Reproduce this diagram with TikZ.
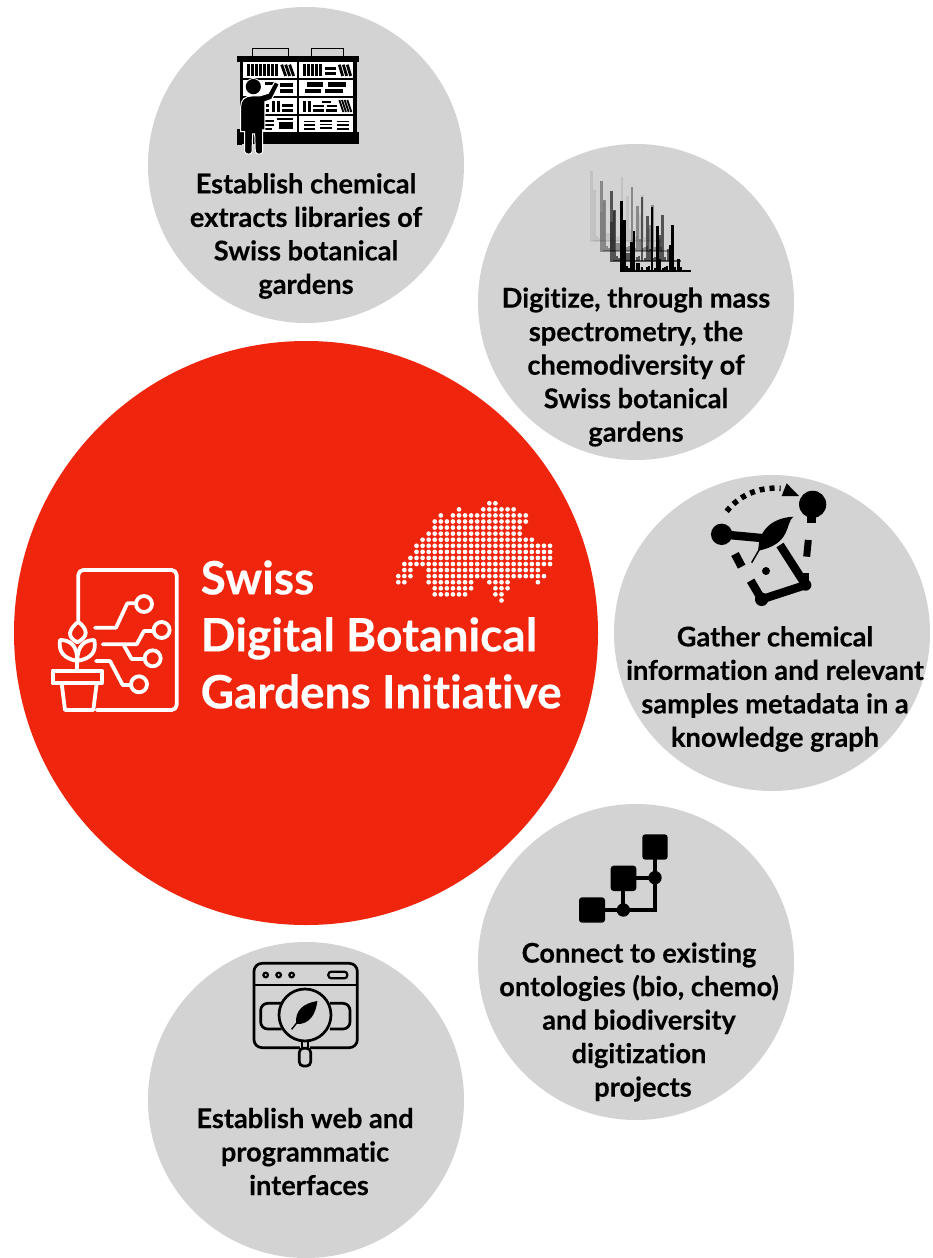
\documentclass[tikz,border=0pt]{standalone}
\usepackage{fontspec}
\setmainfont{Lato}[BoldFont={Lato Bold},BoldFeatures={FakeBold=0.25},Ligatures=NoCommon]
\definecolor{disc}{HTML}{D3D3D3}
\definecolor{redmain}{HTML}{F0250D}
\tikzset{
  discnode/.style={circle,fill=disc,minimum size=316pt,inner sep=0pt,draw=none},
  captxt/.style={font=\fontsize{27.2}{33.5}\selectfont\bfseries,align=center,text=black,inner sep=0pt},
  maintitle/.style={font=\fontsize{46}{57}\selectfont\bfseries,align=left,text=white,inner sep=0pt,anchor=west},
  zoomed/.style={x=0.3333pt,y=-0.3333pt},
  wl/.style={draw=white,line width=3.8pt,line join=round,line cap=round},
  kl/.style={draw=black,line width=8.4pt},
  ol/.style={draw=black,line width=2.7pt,line join=round},
}
\newcommand{\spec}[1]{%
  \draw[black,#1,line width=2.4pt] (155,122)--(155,333)--(362,333);
  \foreach \px/\py in {163/180,185/247,192/212,246/140,262/197,270/297,300/255,308/195,325/298}
    {\draw[black,#1,line width=2.4pt] (\px,333)--(\px,\py);}
  \foreach \px/\py in {170/318,178/325,200/310,207/310,215/322,230/322,238/318,254/325,278/325,285/322,292/318,316/322,332/322}
    {\draw[black,#1,line width=1.7pt] (\px,333)--(\px,\py);}
}
\begin{document}
\begin{tikzpicture}[x=1pt,y=-1pt]
\useasboundingbox (0,0) rectangle (933,1258);
\fill[white] (0,0) rectangle (933,1258);
\node[discnode] (c1) at (306,165) {};
\node[discnode] (c2) at (636,302) {};
\node[discnode] (c3) at (772,633) {};
\node[discnode] (c4) at (636,962) {};
\node[discnode] (c5) at (306,1100) {};
\node[circle,fill=redmain,minimum size=584pt,inner sep=0pt] (main) at (306,633) {};
\node[maintitle] (title) at (200.5,634.5) {Swiss\\Digital Botanical\\Gardens Initiative};
\node[captxt] (t1) at (306,236) {Establish chemical\\extracts libraries of\\Swiss botanical\\gardens};
\node[captxt] (t2) at (636,367) {Digitize, through mass\\spectrometry, the\\chemodiversity of\\Swiss botanical\\gardens};
\node[captxt] (t3) at (775,689) {Gather chemical\\information and relevant\\samples metadata in a\\knowledge graph};
\node[captxt] (t4) at (639,1022) {Connect to existing\\ontologies (bio, chemo)\\and biodiversity\\digitization\\\hspace*{8pt}projects};
\node[captxt] (t5) at (305,1151.5) {Establish web and\\programmatic\\\hspace*{8pt}interfaces};
% Swiss map
\begin{scope}[shift={(398.3,503.3)}]
\foreach \r/\a/\b in {0/15/16,1/10/10,1/14/19,2/7/7,2/9/21,3/6/21,4/6/20,5/5/20,6/4/22,7/3/25,8/3/25,9/2/25,10/1/25,11/1/2,11/5/23,12/0/2,12/5/24,13/0/1,13/5/12,13/15/18,13/23/23,14/6/12,14/16/18,15/6/11,15/16/17,16/17/17}
  \foreach \c in {\a,...,\b} {\fill[white] (\c*6.07,\r*6.07) circle (2.35pt);}
\end{scope}
% plant icon
\begin{scope}[shift={(40,555)},zoomed]
\draw[wl,rounded corners=5pt] (115,195)--(115,45)--(410,45)--(410,465)--(170,465);
\draw[wl] (38,347) rectangle (185,385);
\draw[wl] (65,385)--(75,465)--(160,465)--(170,385);
\draw[wl] (112,345)--(112,300);
\draw[wl] (112,262) .. controls (80,245) and (85,225) .. (115,200) .. controls (145,225) and (145,245) .. (112,262);
\draw[wl] (112,318) .. controls (70,310) and (55,290) .. (60,255) .. controls (90,255) and (112,270) .. (112,318);
\draw[wl] (112,318) .. controls (155,310) and (170,290) .. (163,255) .. controls (135,255) and (112,270) .. (112,318);
\draw[wl] (165,218)--(228,218)--(262,145)--(288,145);
\draw[wl] (312,147) circle (8pt);
\draw[wl] (188,268)--(290,268)--(312,228)--(341,228);
\draw[wl] (365,225) circle (8pt);
\draw[wl] (250,268)--(275,312)--(314,312);
\draw[wl] (338,310) circle (8pt);
\draw[wl] (168,318)--(210,318)--(248,390)--(273,390);
\draw[wl] (297,388) circle (8pt);
\end{scope}
% library icon
\begin{scope}[shift={(220,30)},zoomed]
\draw[black,fill=disc,line width=1.6pt] (97,55) rectangle (205,85);
\draw[black,fill=disc,line width=1.6pt] (274,55) rectangle (370,85);
\fill[black] (52,78) rectangle (417,95);
\fill[black] (60,95) rectangle (410,310);
\fill[black] (52,305) rectangle (417,343);
\foreach \ya/\yb in {97/143,150/197,205/252,258/305}{
  \fill[white] (68,\ya) rectangle (230,\yb);
  \fill[white] (238,\ya) rectangle (400,\yb);
}
% row 1
\foreach \x in {80,92,104,116,128,140,152,164}{\fill[black] (\x,102) rectangle +(9,36);}
\foreach \x in {185,197,209}{\draw[black,line width=2.8pt] (\x,104)--(\x+12,138);}
\foreach \x in {250,262,274,286,298}{\fill[black] (\x,102) rectangle +(9,36);}
\fill[black] (316,112) rectangle (348,121); \fill[black] (316,126) rectangle (348,136);
\foreach \x in {358,370,382}{\draw[black,line width=2.8pt] (\x,104)--(\x+10,138);}
% row 2
\fill[black] (135,156) rectangle (170,164); \fill[black] (180,158) rectangle (218,170); \fill[black] (180,176) rectangle (218,190);
\fill[black] (262,156) rectangle (310,170); \fill[black] (324,156) rectangle (378,170);
\fill[black] (254,176) rectangle (302,190); \fill[black] (316,176) rectangle (370,190);
% row 3
\fill[black] (155,212) rectangle (164,246); \fill[black] (170,212) rectangle (179,246);
\fill[black] (138,222) rectangle (148,232); \fill[black] (138,236) rectangle (148,246);
\fill[black] (186,222) rectangle (220,231); \fill[black] (186,236) rectangle (220,245);
\fill[black] (250,212) rectangle (259,246); \fill[black] (264,212) rectangle (273,246);
\fill[black] (280,224) rectangle (312,232); \fill[black] (278,237) rectangle (312,245);
\fill[black] (320,224) rectangle (352,232); \fill[black] (318,237) rectangle (352,245);
\fill[black] (305,213) rectangle (332,218);
\foreach \x in {358,366,374,382}{\draw[black,line width=1.8pt] (\x,210)--(\x+12,246);}
% row 4
\fill[black] (135,270) rectangle (162,275); \fill[black] (135,283) rectangle (162,288); \fill[black] (135,295) rectangle (155,300);
\fill[black] (178,275) rectangle (218,298); \fill[black] (170,264) rectangle (220,269);
\foreach \y in {272,283,294}{\fill[black] (252,\y) rectangle (285,\y+5);\fill[black] (300,\y-2) rectangle (335,\y+3);\fill[black] (350,\y) rectangle (388,\y+5);}
% person
\fill[disc] (46,300) rectangle (52,345);
\fill[black] (52,298) rectangle (66,344);
\draw[white,line width=1.2pt] (100,170) circle (8pt);
\fill[black] (100,170) circle (7.6pt);
\draw[white,line width=5pt,line join=round,line cap=round] (125,205)--(148,198)--(168,163);
\path[fill=black,draw=white,line width=1pt] (62,305) -- (62,230) .. controls (62,210) and (75,198) .. (95,198) -- (118,198) -- (145,190) -- (164,155) -- (178,162) -- (155,208) -- (135,215) -- (135,300) -- (128,300) -- (128,365) .. controls (128,375) and (108,375) .. (106,365) -- (104,312) -- (98,312) -- (96,365) .. controls (96,375) and (76,375) .. (74,365) -- (74,305) -- cycle;
\end{scope}
% spectra icon
\begin{scope}[shift={(570,160)},zoomed]
\begin{scope}[shift={(-90,-90)}]\spec{opacity=0.08}\end{scope}
\begin{scope}[shift={(-60,-60)}]\spec{opacity=0.35}\end{scope}
\begin{scope}[shift={(-30,-30)}]\spec{opacity=0.6}\end{scope}
\spec{opacity=1}
\end{scope}
% knowledge graph icon
\begin{scope}[shift={(690,470)},zoomed]
\fill (95,193) circle (10.7pt);
\fill (368,103) circle (13.6pt);
\fill (352,135) rectangle (378,160);
\draw[kl] (95,193)--(225,205);
\draw[kl] (270,225)--(347,345);
\draw[kl] (347,345)--(215,388);
\draw[kl] (215,388)--(182,332);
\draw[kl] (135,252)--(155,290);
\draw[black,line width=7pt] (355,210)--(350,260);
\fill (347,345) circle (5.7pt);
\fill (215,388) circle (6.7pt);
\fill (228,303) circle (4pt);
\fill (335,310) rectangle (358,345);
\path[fill=black] (205,242) .. controls (205,190) and (235,145) .. (310,140) .. controls (285,160) and (305,222) .. (205,242) -- cycle;
\draw[black,line width=1.5pt] (210,235)--(185,278);
\draw[black,line width=5.5pt,dash pattern=on 5pt off 5pt] (110,124) .. controls (145,80) and (200,50) .. (272,55);
\fill (290,40)--(327,78)--(275,78)--cycle;
\end{scope}
% network icon
\begin{scope}[shift={(565,825)},zoomed]
\draw[black,line width=4pt] (100,255)--(270,255)--(270,80);
\draw[black,line width=4pt] (175,180)--(175,255);
\draw[black,line width=4pt] (190,158)--(270,158);
\fill[rounded corners=3pt] (42,217) rectangle (120,293);
\fill[rounded corners=3pt] (137,122) rectangle (214,198);
\fill[rounded corners=3pt] (232,28) rectangle (308,104);
\fill (175,255) circle (6.7pt);
\fill (270,158) circle (6.7pt);
\end{scope}
% web icon
\begin{scope}[shift={(240,950)},zoomed]
\draw[ol,rounded corners=8pt] (180,293)--(42,293)--(42,40)--(352,40)--(352,293)--(210,293);
\draw[ol] (42,105)--(352,105);
\foreach \x in {77,116,155}{\draw[black,line width=2.2pt] (\x,75) circle (2.3pt);}
\draw[black,line width=2.2pt,rounded corners=3pt] (265,65) rectangle (322,85);
\draw[ol,rounded corners=7pt] (125,160)--(62,160)--(62,237)--(125,237);
\draw[ol,rounded corners=7pt] (270,160)--(330,160)--(330,237)--(270,237);
\draw[ol,fill=disc] (195,195) circle (26pt);
\draw[ol] (186,273)--(186,295);
\draw[ol] (204,273)--(204,295);
\draw[ol,rounded corners=4pt] (178,295) rectangle (212,348);
\path[fill=black] (168,222) .. controls (165,180) and (190,160) .. (232,153) .. controls (228,190) and (210,225) .. (168,222) -- cycle;
\draw[black,line width=1.4pt] (185,200)--(155,238);
\end{scope}
\end{tikzpicture}
\end{document}
